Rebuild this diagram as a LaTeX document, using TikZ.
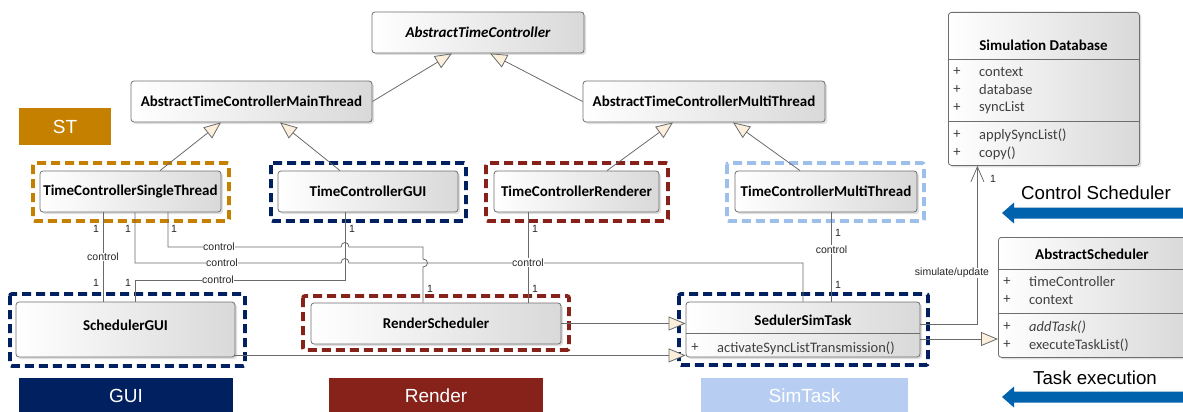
\documentclass[tikz,border=0pt]{standalone}
\usepackage{fontspec}
\setmainfont{Liberation Sans}
\newfontfamily\clsfont{Carlito}
\usetikzlibrary{arrows.meta,calc,shadows}

\definecolor{stOrange}{HTML}{C58000}
\definecolor{guiNavy}{HTML}{002060}
\definecolor{renderRed}{HTML}{86221A}
\definecolor{simFill}{HTML}{B7CEF2}
\definecolor{simFrame}{HTML}{9DBFEC}
\definecolor{schedBlue}{HTML}{0062AD}
\definecolor{clsBorder}{HTML}{6E6E6E}
\definecolor{clsRight}{HTML}{D9D9D9}
\definecolor{lineGray}{HTML}{6A6A6A}
\definecolor{cream}{HTML}{FCF0DC}
\definecolor{itemGray}{HTML}{404040}

\tikzset{
  cls/.style={draw=clsBorder, line width=0.8pt, rounded corners=3pt,
    left color=white, right color=clsRight, inner sep=0pt,
    drop shadow={shadow xshift=2pt, shadow yshift=-2pt, opacity=0.25},
    font=\clsfont\bfseries\fontsize{15}{17}\selectfont},
  clstitle/.style={inner sep=0pt, font=\clsfont\bfseries\fontsize{15}{17}\selectfont},
  item/.style={anchor=west, inner sep=0pt, text=itemGray,
    font=\clsfont\fontsize{14.5}{16}\selectfont},
  plus/.style={inner sep=0pt, text=itemGray, font=\clsfont\fontsize{14.5}{16}\selectfont},
  sep/.style={draw=clsBorder, line width=0.8pt},
  grpframe/.style={line width=3.8pt, dash pattern=on 9pt off 5pt, rounded corners=2pt},
  gen/.style={draw=lineGray, line width=0.8pt,
    -{Triangle[length=17pt, width=14pt, fill=cream]}},
  assoc/.style={draw=lineGray, line width=0.8pt},
  lbl/.style={fill=white, inner sep=0.6pt, text=black!85,
    font=\fontsize{10.5}{12}\selectfont},
  mult/.style={inner sep=0pt, text=black!85, font=\fontsize{10.5}{12}\selectfont},
  tag/.style={inner sep=0pt, text=white, font=\fontsize{19}{22}\selectfont},
  caption/.style={inner sep=0pt, text=black, font=\fontsize{18.7}{21}\selectfont},
  schedarrow/.style={fill=schedBlue, draw=none}
}

\begin{document}
\begin{tikzpicture}[x=1pt, y=-1pt]
\clip (0,0) rectangle (1183,412);

% ---------- group frames ----------
\draw[grpframe, stOrange]  (33,163) rectangle (229,221);
\draw[grpframe, guiNavy]   (271,163) rectangle (466,221);
\draw[grpframe, renderRed] (486,163) rectangle (668,221);
\draw[grpframe, simFrame]  (727,163) rectangle (924,221);
\draw[grpframe, guiNavy]   (10,294) rectangle (245,366);
\draw[grpframe, renderRed] (303,296) rectangle (569,350);
\draw[grpframe, guiNavy]   (679,294) rectangle (928,365);

% ---------- classes ----------
\node[cls, minimum width=212, minimum height=41,
      font=\clsfont\bfseries\itshape\fontsize{15}{17}\selectfont]
      (atc) at (478,32.5) {AbstractTimeController};
\node[cls, minimum width=241, minimum height=41] (mt)  at (251.5,101.5) {AbstractTimeControllerMainThread};
\node[cls, minimum width=242, minimum height=41] (mth) at (704,101.5) {AbstractTimeControllerMultiThread};
\node[cls, minimum width=181, minimum height=41] (tcst)  at (130.5,191.5) {TimeControllerSingleThread};
\node[cls, minimum width=180, minimum height=41] (tcgui) at (368,191.5) {TimeControllerGUI};
\node[cls, minimum width=165, minimum height=41] (tcr)   at (576.5,191.5) {TimeControllerRenderer};
\node[cls, minimum width=182, minimum height=41] (tcmt)  at (826,191.5) {TimeControllerMultiThread};
\node[cls, minimum width=219, minimum height=55] (sgui) at (125.5,329.5) {\raisebox{8pt}{SchedulerGUI}};
\node[cls, minimum width=250, minimum height=41] (rs)   at (436,323.5) {RenderScheduler};

% SedulerSimTask with one operation compartment
\node[cls, minimum width=234, minimum height=55] (sst) at (803,329.5) {};
\node[clstitle] (sstT) at (803,320) {SedulerSimTask};
\draw[sep] ($(sst.north west)+(0,32)$) -- ($(sst.north east)+(0,32)$);
\node[plus] (sstP) at (695,348) {+};
\node[item] (sstO) at (717,348) {activateSyncListTransmission()};

% Simulation Database
\node[cls, anchor=north west, minimum width=191, minimum height=153] (sdb) at (948,12) {};
\node[clstitle] (sdbT) at (1043.5,45) {Simulation Database};
\draw[sep] ($(sdb.north west)+(0,47)$) -- ($(sdb.north east)+(0,47)$);
\draw[sep] ($(sdb.north west)+(0,109)$) -- ($(sdb.north east)+(0,109)$);
\foreach \y/\t [count=\i] in {72/context, 90/database, 108/syncList, 135/applySyncList(), 153/copy()} {
  \node[plus] (sdbP\i) at (957,\y) {+};
  \node[item] (sdbI\i) at (979,\y) {\t};
}

% AbstractScheduler
\node[cls, anchor=north west, minimum width=188, minimum height=120] (as) at (998,237) {};
\node[clstitle] (asT) at (1092,254) {AbstractScheduler};
\draw[sep] ($(as.north west)+(0,32)$) -- ($(as.north east)+(0,32)$);
\draw[sep] ($(as.north west)+(0,76)$) -- ($(as.north east)+(0,76)$);
\foreach \y/\t [count=\i] in {282/timeController, 300/context, 327/\textit{addTask()}, 345/executeTaskList()} {
  \node[plus] (asP\i) at (1007,\y) {+};
  \node[item] (asI\i) at (1029,\y) {\t};
}

% ---------- generalizations ----------
\draw[gen] (mt.east) -- ($(atc.south)+(-26,0)$);
\draw[gen] (mth.west) -- ($(atc.south)+(12,0)$);
\draw[gen] ($(tcst.north)+(29.5,0)$) -- ($(mt.south)+(-30.5,0)$);
\draw[gen] ($(tcgui.north)+(-28,0)$) -- ($(mt.south)+(28.5,0)$);
\draw[gen] ($(tcr.north)+(30.5,0)$) -- ($(mth.south)+(-31,0)$);
\draw[gen] ($(tcmt.north)+(-26,0)$) -- ($(mth.south)+(29,0)$);
\draw[gen] (rs.east) -- (rs.east -| sst.west);
\coordinate (guiOut) at ($(sgui.south east)+(0,-2)$);
\draw[gen] (guiOut) -- (guiOut -| sst.west);
\coordinate (simOut) at ($(sst.east)+(0,9.5)$);
\draw[gen] (simOut) -- (simOut -| as.west);

% ---------- control associations ----------
% SingleThread -> SchedulerGUI
\coordinate (aS) at ($(tcst.south)+(-27.5,0)$);
\draw[assoc] (aS) -- (aS |- sgui.north) node[lbl, pos=0.5] (aL) {control};
\node[mult] (aM1) at (96,229) {1};
\node[mult] (aM2) at (96,283) {1};

% SingleThread -> RenderScheduler
\coordinate (bS) at ($(tcst.south)+(37.5,0)$);
\coordinate (bE) at (423,270);
\draw[assoc] (bS) -- (168,247) -- (341,247) .. controls (341,241) and (349,241) .. (349,247)
  -- (423,247) -- (423,259) .. controls (429,259) and (429,267) .. (423,267) -- (bE |- rs.north);
\node[lbl] (bL) at (219,247) {control};
\node[mult] (bM1) at (174,229) {1};
\node[mult] (bM2) at (430,289) {1};

% SingleThread -> SedulerSimTask
\coordinate (cS) at ($(tcst.south)+(4.5,0)$);
\draw[assoc] (cS) -- (135,263) -- (341,263) .. controls (341,257) and (349,257) .. (349,263)
  -- (803,263) -- (sst.north);
\node[lbl] (cL) at (222,263) {control};
\node[mult] (cM1) at (128,229) {1};

% TimeControllerGUI -> SchedulerGUI
\coordinate (dS) at ($(tcgui.south)+(-23,0)$);
\coordinate (dE) at ($(sgui.north)+(9.5,0)$);
\draw[assoc] (dS) -- (345,280) -- (135,280) -- (dE);
\node[lbl] (dL) at (218,280) {control};
\node[mult] (dM1) at (352,229) {1};
\node[mult] (dM2) at (128,283) {1};

% Renderer -> RenderScheduler
\coordinate (eS) at ($(tcr.south)+(-48.5,0)$);
\draw[assoc] (eS) -- (eS |- rs.north) node[lbl, pos=0.56] (eL) {control};
\node[mult] (eM1) at (535,229) {1};
\node[mult] (eM2) at (535,289) {1};

% MultiThread -> SedulerSimTask
\coordinate (fS) at ($(tcmt.south)+(5.5,0)$);
\draw[assoc] (fS) -- (fS |- sst.north) node[lbl, pos=0.42] (fL) {control};
\node[mult] (fM1) at (838,233) {1};
\node[mult] (fM2) at (838,285) {1};

% SedulerSimTask -> Simulation Database
\coordinate (simIn) at ($(sst.east)+(0,-5.5)$);
\coordinate (simTop) at ($(sdb.south)+(-66.5,0)$);
\draw[assoc, -{Straight Barb[length=15pt, width=13pt]}] (simIn) -| (simTop);
\node[lbl] (gL) at (952,273) {simulate/update};
\node[mult] (gM) at (993,179) {1};

% ---------- group tags ----------
\node[tag, fill=stOrange, minimum width=92, minimum height=37] (tagST) at (65,126.5) {ST};
\node[tag, fill=guiNavy, minimum width=214, minimum height=35] (tagGUI) at (126,395.5) {GUI};
\node[tag, fill=renderRed, minimum width=214, minimum height=35] (tagRender) at (436,395.5) {Render};
\node[tag, fill=simFill, minimum width=207, minimum height=35] (tagSim) at (804.5,395.5) {SimTask};

% ---------- scheduler flow arrows ----------
\node[caption] (capCtrl) at (1096,193) {Control Scheduler};
\fill[schedarrow] (1002,213) -- (1014,202.5) -- (1014,207.5) -- (1190,207.5)
  -- (1190,218.5) -- (1014,218.5) -- (1014,223.5) -- cycle;
\node[caption] (capTask) at (1095,378) {Task execution};
\fill[schedarrow] (1002,397) -- (1014,386.5) -- (1014,391.5) -- (1190,391.5)
  -- (1190,402.5) -- (1014,402.5) -- (1014,407.5) -- cycle;
\end{tikzpicture}
\end{document}
